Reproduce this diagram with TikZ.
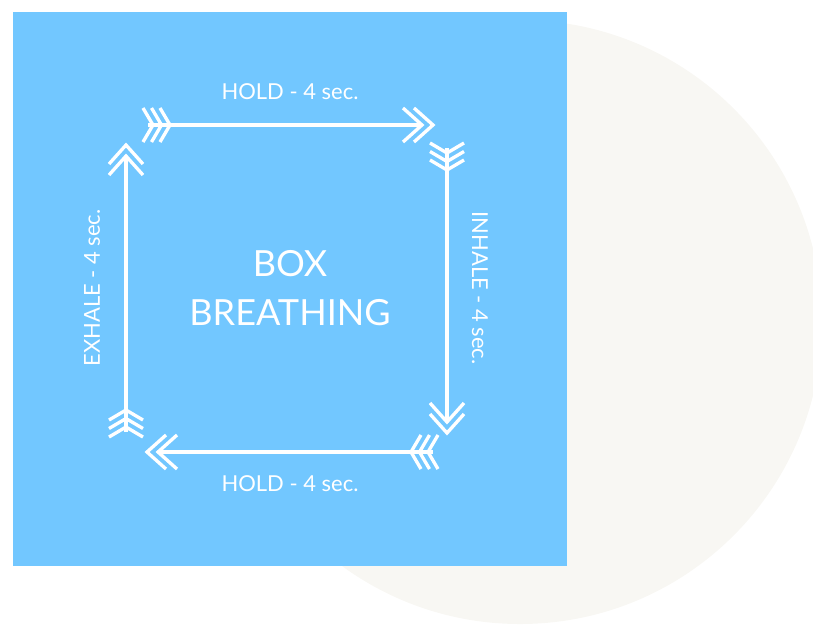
\documentclass[tikz,border=0pt]{standalone}
\usepackage{fontspec}
\setmainfont{Lato}

\begin{document}
\begin{tikzpicture}[x=0.02cm, y=-0.02cm]
    % Define colours
    \definecolor{boxColour}{HTML}{72C7FF}
    \definecolor{circleColour}{HTML}{F8F7F3}

    % Styles for the arrows
    \tikzset{
        stroke/.style={white, line width=1.9pt},
        shaft/.style={stroke, shorten >=6pt},
        label/.style={white, font=\fontsize{12.5}{15}\selectfont},
        pics/fletch/.style={code={
            \foreach \t in {5,13.5,22}
                \draw[stroke] (\t-10,17) -- (\t,0) -- (\t-10,-17);
        }},
        pics/head/.style={code={
            \foreach \t in {0,-11}
                \draw[stroke] (\t-19,17) -- (\t,0) -- (\t-19,-17);
        }}
    }

    % Frame
    \useasboundingbox (0,0) rectangle (813,626);
    \clip (0,0) rectangle (813,626);

    % Background circle and square
    \fill[circleColour] (520,322) circle[radius=302];
    \fill[boxColour] (13,12) rectangle (567,566);

    % Arrow end points
    \coordinate (T1) at (148,125);
    \coordinate (T2) at (433,125);
    \coordinate (R1) at (447,148);
    \coordinate (R2) at (447,433);
    \coordinate (B1) at (433,452);
    \coordinate (B2) at (147,452);
    \coordinate (L1) at (126,432);
    \coordinate (L2) at (126,145);

    % Draw the four arrows
    \draw[shaft] (T1) -- (T2);
    \pic at (T1) {fletch};
    \pic at (T2) {head};

    \draw[shaft] (R1) -- (R2);
    \pic[rotate=-90] at (R1) {fletch};
    \pic[rotate=-90] at (R2) {head};

    \draw[shaft] (B1) -- (B2);
    \pic[rotate=180] at (B1) {fletch};
    \pic[rotate=180] at (B2) {head};

    \draw[shaft] (L1) -- (L2);
    \pic[rotate=90] at (L1) {fletch};
    \pic[rotate=90] at (L2) {head};

    % Labels
    \node[label] (holdTop) at (290,92) {HOLD - 4 sec.};
    \node[label, rotate=-90] (inhale) at (480,288) {INHALE - 4 sec.};
    \node[label] (holdBottom) at (290,484) {HOLD - 4 sec.};
    \node[label, rotate=90] (exhale) at (92,288) {EXHALE - 4 sec.};

    % Title
    \node[white, align=center, font=\fontsize{20.5}{28}\selectfont] (title) at (290,288) {BOX\\BREATHING};

\end{tikzpicture}
\end{document}
